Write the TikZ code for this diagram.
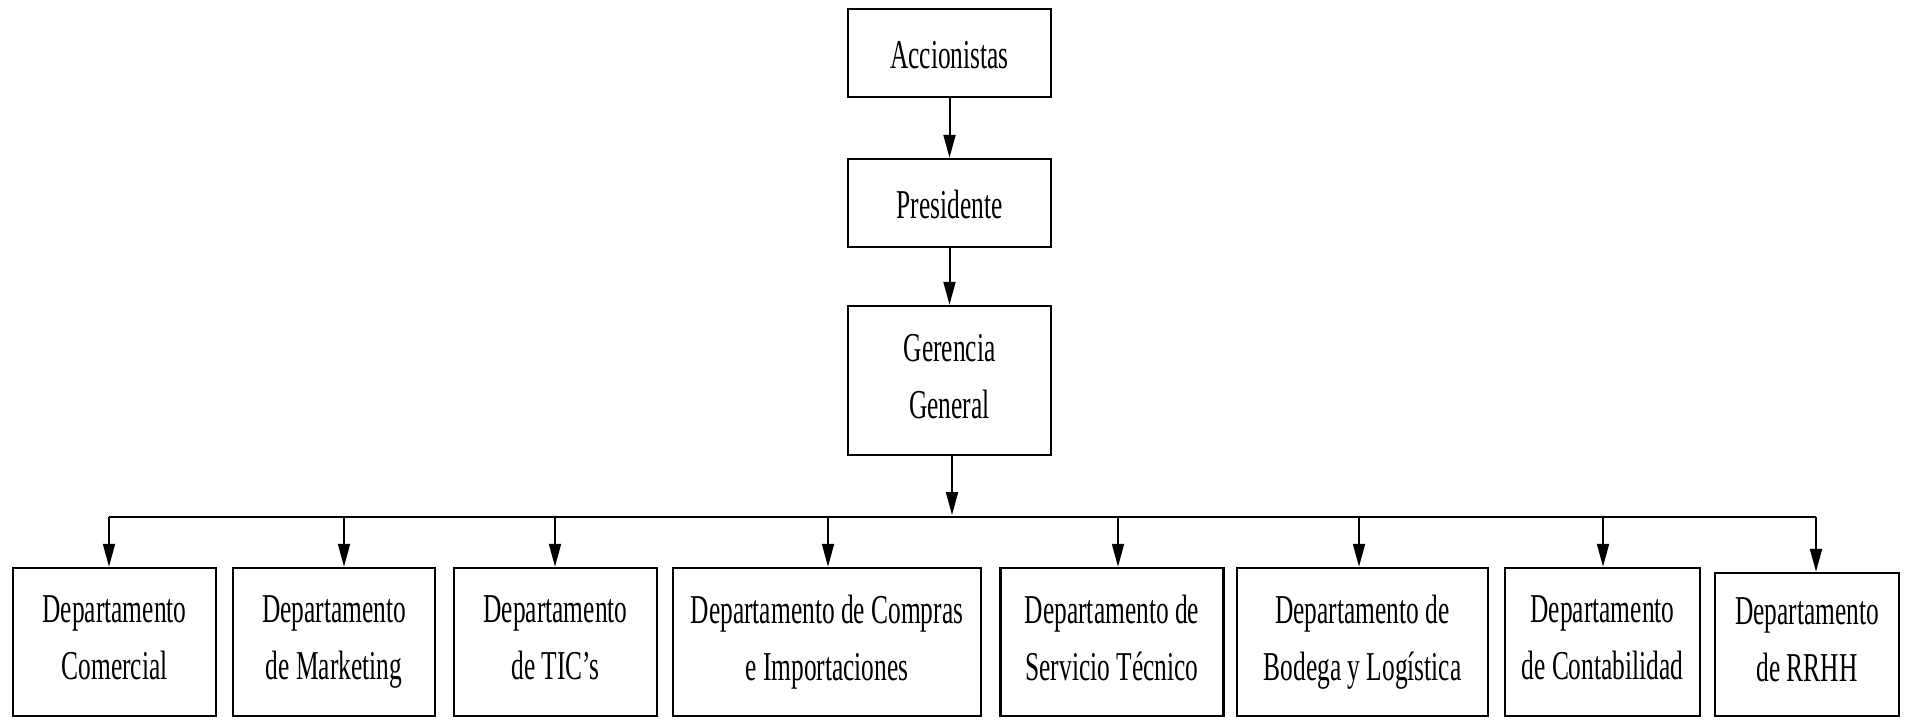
\documentclass[tikz,border=0pt]{standalone}
\usepackage{fontspec}
\setmainfont{Liberation Serif}[FakeStretch=0.62]
\usetikzlibrary{arrows.meta}

\begin{document}
\begin{tikzpicture}[x=1pt,y=-1pt,
  box/.style={draw,line width=2.5pt,align=center,inner sep=0pt,minimum height=148pt,font=\fontsize{41}{57}\selectfont,
    execute at begin node={\rule{0pt}{40pt}},execute at end node={\rule[-9pt]{0pt}{9pt}}},
  topbox/.style={box,minimum width=203pt,minimum height=88pt},
  link/.style={line width=2pt,-{Triangle[length=23pt,width=12pt]}}]
  \useasboundingbox (0,0) rectangle (1905,720);
  % upper chain
  \node[topbox] (acc) at (949.5,53) {Accionistas};
  \node[topbox] (pres) at (949.5,203) {Presidente};
  \node[topbox,minimum height=149pt] (ger) at (949.5,380.5) {Gerencia\\General};
  \draw[link] (acc) -- (pres);
  \draw[link] (pres) -- (ger);
  % departments
  \node[box,minimum width=203pt] (d1) at (114.5,642) {Departamento\\Comercial};
  \node[box,minimum width=202pt] (d2) at (334,642) {Departamento\\de Marketing};
  \node[box,minimum width=203pt] (d3) at (555.5,642) {Departamento\\de TIC’s};
  \node[box,minimum width=308pt] (d4) at (827,642) {Departamento de Compras\\e Importaciones};
  \node[box,minimum width=223pt] (d5) at (1112,642) {Departamento de\\Servicio Técnico};
  \node[box,minimum width=251pt] (d6) at (1362.5,642) {Departamento de\\Bodega y Logística};
  \node[box,minimum width=195pt] (d7) at (1602.5,642) {Departamento\\de Contabilidad};
  \node[box,minimum width=184pt,minimum height=143pt] (d8) at (1807,644.5) {Departamento\\de RRHH};
  % bus
  \coordinate (bus) at (952,517);
  \coordinate (t1) at (109,517);
  \coordinate (t2) at (344,517);
  \coordinate (t3) at (555,517);
  \coordinate (t4) at (828,517);
  \coordinate (t5) at (1118,517);
  \coordinate (t6) at (1359,517);
  \coordinate (t7) at (1603,517);
  \coordinate (t8) at (1816,517);
  \draw[link,shorten >=2pt] (ger.south -| bus) -- (bus);
  \draw[line width=2.5pt] (t1) -- (t8);
  \draw[link] (t1) -- (t1 |- d1.north);
  \draw[link] (t2) -- (t2 |- d2.north);
  \draw[link] (t3) -- (t3 |- d3.north);
  \draw[link] (t4) -- (t4 |- d4.north);
  \draw[link] (t5) -- (t5 |- d5.north);
  \draw[link] (t6) -- (t6 |- d6.north);
  \draw[link] (t7) -- (t7 |- d7.north);
  \draw[link] (t8) -- (t8 |- d8.north);
\end{tikzpicture}
\end{document}
